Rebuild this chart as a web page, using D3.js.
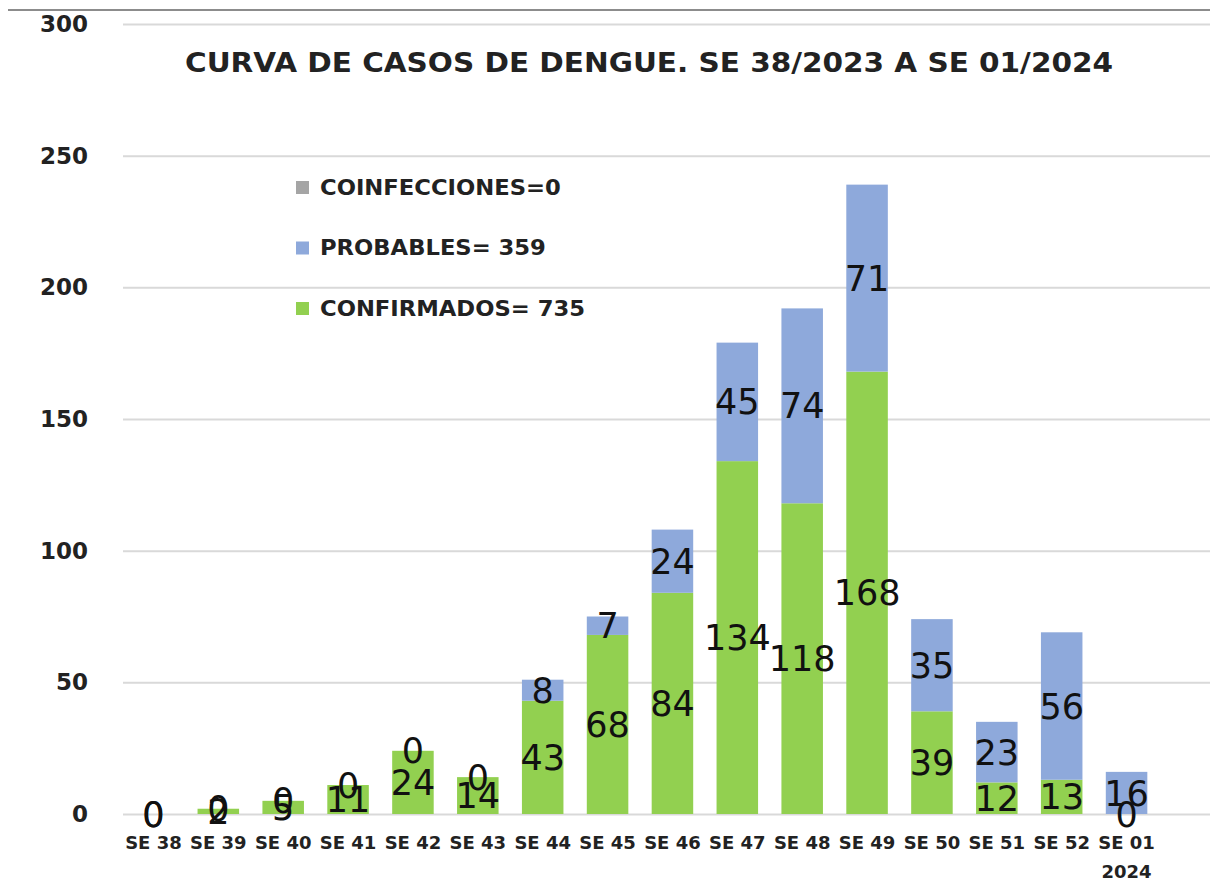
<!DOCTYPE html>
<html>
<head>
<meta charset="utf-8">
<script src="https://cdn.jsdelivr.net/npm/d3@7"></script>
<style>
  body { margin: 0; background: #fff; }
  svg { display: block; }
</style>
</head>
<body>
<svg></svg>
<script>
// ---------------
//  DATA
// ---------------
var weeks = ["SE 38", "SE 39", "SE 40", "SE 41", "SE 42", "SE 43", "SE 44", "SE 45",
             "SE 46", "SE 47", "SE 48", "SE 49", "SE 50", "SE 51", "SE 52", "SE 01|2024"];
var confirmados = [0, 2, 5, 11, 24, 14, 43, 68, 84, 134, 118, 168, 39, 12, 13, 0];
var probables = [0, 0, 0, 0, 0, 0, 8, 7, 24, 45, 74, 71, 35, 23, 56, 16];
var coinfecciones = [0, 0, 0, 0, 0, 0, 0, 0, 0, 0, 0, 0, 0, 0, 0, 0];
var yTicks = [0, 50, 100, 150, 200, 250, 300];
var legendItems = ["COINFECCIONES=0", "PROBABLES= 359", "CONFIRMADOS= 735"];

var width = 1217,
    height = 886;

var svg = d3.select("svg")
    .attr("width", width)
    .attr("height", height);

var colors = { conf: "#92D050", prob: "#8EA9DB", coin: "#A5A5A5" };

// ---------------
//  SCALES
// ---------------
var x = d3.scaleBand()
    .domain(weeks)
    .range([121, 1159])
    .paddingInner(0.36)
    .paddingOuter(0.18);

var y = d3.scaleLinear()
    .domain([0, 300])
    .range([814, 24]);

// top border
svg.append("line")
    .attr("x1", 8).attr("x2", 1210)
    .attr("y1", 10).attr("y2", 10)
    .attr("stroke", "#8c8c8c")
    .attr("stroke-width", 2);

// gridlines + y labels
var yAxis = d3.axisLeft(y)
    .tickValues(yTicks)
    .tickSize(-(1210 - 123))
    .tickPadding(35);

svg.append("g")
    .attr("transform", "translate(123,0)")
    .call(yAxis)
    .call(g => g.select(".domain").remove())
    .call(g => g.selectAll(".tick line").attr("stroke", "#d9d9d9").attr("stroke-width", 2))
    .call(g => g.selectAll(".tick text")
        .attr("fill", "#222")
        .style("font", "bold 23px 'DejaVu Sans'"));

// ---------------
//  BARS
// ---------------
var rows = weeks.map((w, i) => ({
    week: w,
    conf: confirmados[i],
    prob: probables[i],
    coin: coinfecciones[i]
}));

var stack = d3.stack().keys(["conf", "prob", "coin"]);
var series = stack(rows);

var layers = svg.append("g").selectAll("g")
    .data(series)
    .enter().append("g")
    .attr("fill", d => colors[d.key]);

layers.selectAll("rect")
    .data(d => d)
    .enter().append("rect")
    .attr("x", d => x(d.data.week))
    .attr("width", x.bandwidth())
    .attr("y", d => y(d[1]))
    .attr("height", d => y(d[0]) - y(d[1]));

// data labels (confirmados, probables)
series.slice(0, 2).forEach(s => {
    svg.append("g").selectAll("text")
        .data(s)
        .enter().append("text")
        .attr("x", d => x(d.data.week) + x.bandwidth() / 2)
        .attr("y", d => y((d[0] + d[1]) / 2))
        .attr("dy", "0.36em")
        .attr("text-anchor", "middle")
        .attr("fill", "#111")
        .style("font", "35px 'DejaVu Sans'")
        .text(d => d[1] - d[0]);
});

// x labels
var xLabels = svg.append("g").selectAll("text")
    .data(weeks)
    .enter().append("text")
    .attr("x", d => x(d) + x.bandwidth() / 2)
    .attr("y", 849)
    .attr("text-anchor", "middle")
    .attr("fill", "#222")
    .style("font", "bold 18px 'DejaVu Sans'");

xLabels.each(function (d) {
    var parts = d.split("|");
    d3.select(this).selectAll("tspan")
        .data(parts)
        .enter().append("tspan")
        .attr("x", d3.select(this).attr("x"))
        .attr("dy", (p, i) => i === 0 ? 0 : 29)
        .text(p => p);
});

// ---------------
//  TITLE
// ---------------
svg.append("text")
    .attr("x", 649)
    .attr("y", 72)
    .attr("text-anchor", "middle")
    .attr("fill", "#222")
    .attr("textLength", 928)
    .attr("lengthAdjust", "spacingAndGlyphs")
    .style("font", "bold 27px 'DejaVu Sans'")
    .text("CURVA DE CASOS DE DENGUE. SE 38/2023 A SE 01/2024");

// ---------------
//  LEGEND
// ---------------
var legendColors = [colors.coin, colors.prob, colors.conf];
var legend = svg.append("g").selectAll("g")
    .data(legendItems)
    .enter().append("g")
    .attr("transform", (d, i) => `translate(296,${187 + i * 60.5})`);

legend.append("rect")
    .attr("x", 0).attr("y", -6)
    .attr("width", 13).attr("height", 13)
    .attr("fill", (d, i) => legendColors[i]);

legend.append("text")
    .attr("transform", "translate(24,0) scale(1.08,1)")
    .attr("dy", "0.36em")
    .attr("fill", "#222")
    .style("font", "bold 21px 'DejaVu Sans'")
    .text(d => d);
</script>
</body>
</html>
